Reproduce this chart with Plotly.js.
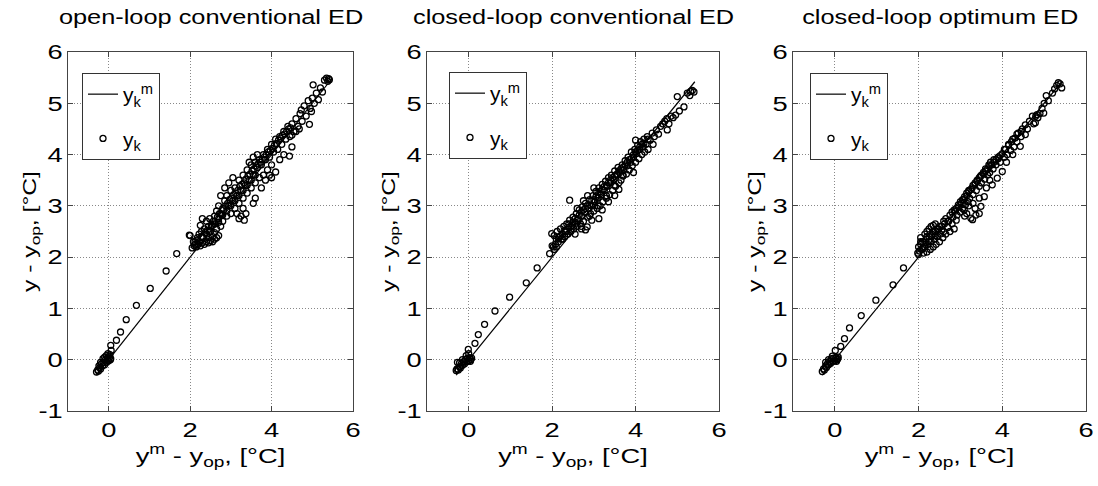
<!DOCTYPE html>
<html><head><meta charset="utf-8">
<script src="https://cdn.plot.ly/plotly-3.0.1.min.js"></script>
<style>html,body{margin:0;padding:0;background:#fff}#chart{width:1098px;height:486px}</style>
</head><body><div id="chart"></div>
<script>
const panelTitles = ['open-loop conventional ED', 'closed-loop conventional ED', 'closed-loop optimum ED'];
const xTickVals = [0, 2, 4, 6];
const xTickText = ['0', '2', '4', '6'];
const yTickVals = [-1, 0, 1, 2, 3, 4, 5, 6];
const yTickText = ['-1', '0', '1', '2', '3', '4', '5', '6'];
const xTitle = 'y<sup>m</sup> - y<sub>op</sub>, [°C]';
const yTitle = 'y - y<sub>op</sub>, [°C]';
const lineName = 'y<sub>k</sub><sup>m</sup>';
const pointName = 'y<sub>k</sub>';
const modelLine = [-0.3, 0, 1, 2, 3, 4, 5, 5.42];

// [y^m - y_op , y - y_op]
const openLoopConv = [
[-0.30,-0.24],[-0.27,-0.20],[-0.25,-0.22],[-0.22,-0.15],[-0.20,-0.18],[-0.18,-0.08],[-0.15,-0.12],[-0.12,-0.05],
[-0.10,-0.10],[-0.08,0.00],[-0.05,-0.05],[-0.03,0.02],[0.00,-0.02],[0.02,0.05],[0.04,0.00],[-0.02,0.12],
[0.05,0.28],[0.06,0.18],[-0.06,0.08],[-0.14,0.02],[0.05,0.02],[0.03,0.10],[-0.10,0.05],[-0.20,-0.05],[-0.24,-0.12],
[0.19,0.38],[0.29,0.54],[0.43,0.78],[0.68,1.06],[1.02,1.39],[1.41,1.73],[1.67,2.07],[1.98,2.43],
[2.05,2.18],[2.10,2.22],[2.15,2.20],[2.20,2.25],[2.25,2.22],[2.30,2.28],[2.35,2.25],[2.40,2.30],[2.45,2.28],
[2.50,2.32],[2.55,2.30],[2.60,2.35],[2.12,2.30],[2.18,2.38],[2.22,2.45],[2.28,2.50],[2.30,2.40],[2.35,2.55],
[2.40,2.45],[2.45,2.60],[2.50,2.50],[2.55,2.62],[2.60,2.48],[2.65,2.55],[2.00,2.42],[2.08,2.30],[2.25,2.62],
[2.30,2.75],[2.40,2.70],[2.48,2.75],[2.70,2.42],[2.75,2.60],
[2.60,2.80],[2.65,2.90],[2.70,2.75],[2.70,3.00],[2.75,2.85],[2.80,2.95],[2.80,2.70],[2.85,3.10],[2.90,2.90],
[2.90,3.20],[2.95,3.00],[3.00,3.30],[3.00,2.85],[3.05,3.10],[3.10,3.35],[3.10,2.95],[3.15,3.20],[3.20,3.50],
[3.20,3.05],[3.25,3.30],[3.30,3.60],[3.30,3.15],[3.35,3.40],[3.40,3.70],[3.40,3.25],[3.45,3.50],[3.50,3.80],
[3.50,3.35],[3.33,2.72],[3.37,2.85],[3.30,2.95],[3.25,2.80],[3.20,2.75],[3.15,2.85],[2.95,3.45],[3.05,3.55],
[2.85,3.35],[2.75,3.20],[3.60,3.15],[3.55,3.05],
[3.55,3.60],[3.60,3.85],[3.60,3.45],[3.65,3.75],[3.70,3.90],[3.70,3.55],[3.75,3.80],[3.80,4.00],[3.80,3.60],
[3.85,3.90],[3.90,4.10],[3.90,3.70],[3.95,3.95],[4.00,4.20],[4.00,3.80],[4.05,4.05],[4.10,4.30],[4.10,3.66],
[4.15,4.10],[4.20,4.35],[4.20,3.90],[4.25,4.20],[4.30,4.45],[4.30,4.00],[4.35,4.30],[4.40,4.55],[4.44,3.97],
[4.45,4.35],[4.50,4.15],[4.50,4.60],[3.85,3.50],[3.75,3.35],[3.95,3.60],[4.00,3.55],[3.45,3.85],[3.55,3.95],
[3.65,4.00],[4.50,4.38],
[4.55,4.45],[4.60,4.70],[4.65,4.55],[4.70,4.80],[4.73,4.87],[4.75,4.65],[4.80,4.95],[4.85,4.75],[4.90,5.05],
[4.93,4.59],[4.95,4.90],[4.98,4.84],[5.00,5.10],[5.05,5.00],[5.02,5.36],[5.15,5.07],[5.10,5.20],[5.20,5.30],
[5.25,5.22],[5.30,5.45],[5.35,5.49],[5.40,5.48],[5.38,5.43],[5.42,5.46],[4.60,4.45],[4.68,4.50],
[2.12,2.25],[2.17,2.33],[2.22,2.30],[2.27,2.40],[2.32,2.38],[2.37,2.48],[2.42,2.52],[2.47,2.50],[2.52,2.62],
[2.57,2.70],[2.62,2.65],[2.67,2.78],[2.72,2.85],[2.77,2.82],[2.82,2.92],[2.87,3.00],[2.92,3.05],[2.97,3.12],
[3.02,3.15],[3.07,3.22],[3.12,3.25],[3.17,3.30],[3.22,3.38],[3.27,3.42],[3.32,3.45],[3.37,3.52],[3.42,3.58],
[3.47,3.62],[3.52,3.68],[3.57,3.72],[3.62,3.78],[3.67,3.82],[3.72,3.85],[3.77,3.90],[3.82,3.95],[3.87,4.00],
[3.92,4.05],[3.97,4.08],[4.02,4.12],[4.07,4.18],[4.12,4.22],[4.17,4.28],[4.22,4.32],[4.27,4.38],[4.32,4.40],
[4.37,4.45],[4.42,4.50],[4.47,4.52],[2.90,2.80],[3.00,3.00],[3.10,3.10],[3.20,3.20],[3.30,3.30],[3.40,3.40],
[3.50,3.50],[3.60,3.60],[2.60,2.65],[2.70,2.68],[2.80,2.82],[2.55,2.40],[2.65,2.38],[2.45,2.38]
];

const closedLoopConv = [
[-0.30,-0.21],[-0.28,-0.18],[-0.25,-0.20],[-0.22,-0.14],[-0.20,-0.16],[-0.18,-0.08],[-0.15,-0.11],[-0.12,-0.04],
[-0.10,-0.08],[-0.08,0.00],[-0.05,-0.04],[-0.03,0.03],[0.00,-0.02],[0.02,0.04],[0.05,0.00],[0.07,0.03],
[-0.06,0.08],[-0.27,-0.05],[-0.15,0.00],[-0.22,-0.06],[0.04,-0.03],[-0.01,0.20],[0.00,0.12],
[0.15,0.32],[0.23,0.49],[0.38,0.69],[0.63,0.95],[0.98,1.22],[1.38,1.50],[1.64,1.79],[1.94,2.07],
[1.99,2.46],[2.03,2.20],[2.00,2.22],[2.05,2.42],[2.08,2.25],[2.10,2.35],[2.12,2.50],[2.15,2.30],[2.18,2.40],
[2.20,2.55],[2.22,2.35],[2.25,2.45],[2.28,2.60],[2.30,2.40],[2.32,2.50],[2.35,2.65],[2.38,2.45],[2.40,2.58],
[2.42,2.72],[2.45,2.50],[2.48,2.62],[2.50,2.78],[2.52,2.55],[2.55,2.68],[2.58,2.85],[2.60,2.60],[2.62,2.75],
[2.65,2.92],[2.68,2.65],[2.70,2.80],[2.72,2.98],[2.75,2.70],[2.78,2.88],[2.80,3.05],[2.80,2.53],[2.84,2.59],
[2.85,2.78],[2.88,2.95],[2.90,3.12],[2.92,2.85],[2.95,3.00],[2.98,3.20],[3.00,2.90],[3.02,3.08],[3.05,3.28],
[3.08,2.95],[3.10,3.15],[3.12,3.35],[3.15,3.00],[3.18,3.22],[3.20,3.42],[3.22,3.08],[3.25,3.30],[3.28,3.48],
[3.30,3.15],[3.32,3.38],[3.35,3.55],[3.38,3.22],[3.40,3.45],[3.42,3.60],[3.45,3.30],[3.48,3.52],[3.50,3.68],
[3.52,3.38],[3.55,3.60],[3.58,3.75],[3.60,3.45],[3.62,3.65],[3.65,3.50],[3.68,3.80],[3.70,3.58],[3.72,3.70],
[3.75,3.88],[3.78,3.62],[3.80,3.78],[3.82,3.95],[3.85,3.70],[3.88,3.85],[3.90,4.05],[3.92,3.78],[3.95,3.95],
[3.98,4.10],[4.00,3.85],[4.02,4.02],[4.05,4.18],[4.08,3.92],[4.10,4.10],[4.12,4.25],[4.15,4.00],[4.18,4.15],
[4.20,4.30],[4.22,4.05],[4.25,4.20],[4.28,4.35],[4.30,4.10],[4.35,4.28],[4.40,4.42],[4.42,4.20],[4.45,4.35],
[4.50,4.48],[4.55,4.40],[4.60,4.55],[4.65,4.60],[4.70,4.65],[4.75,4.70],[4.76,4.48],[4.80,4.60],[4.85,4.75],
[4.90,4.72],[4.96,4.77],[5.00,5.13],[5.05,4.85],[5.16,4.93],[5.24,5.20],[5.30,5.15],[5.32,5.23],[5.36,5.25],
[5.40,5.22],[3.12,2.75],[2.95,2.72],[3.50,3.20],[3.95,3.65],[4.30,4.30],[4.00,4.28],[2.42,3.11],[2.55,2.45],
[2.70,2.55],[3.20,2.92],[3.60,3.32],[3.35,3.08],
[2.05,2.15],[2.10,2.20],[2.15,2.38],[2.20,2.42],[2.25,2.35],[2.30,2.52],[2.35,2.50],[2.40,2.65],[2.45,2.60],
[2.50,2.68],[2.55,2.75],[2.60,2.72],[2.65,2.82],[2.70,2.88],[2.75,2.92],[2.80,2.95],[2.85,3.00],[2.90,3.02],
[2.95,3.10],[3.00,3.12],[3.05,3.18],[3.10,3.22],[3.15,3.28],[3.20,3.32],[3.25,3.38],[3.30,3.40],[3.35,3.45],
[3.40,3.50],[3.45,3.55],[3.50,3.58],[3.55,3.62],[3.60,3.68],[3.65,3.72],[3.70,3.75],[3.75,3.80],[3.80,3.85],
[3.85,3.90],[3.90,3.92],[3.95,4.00],[4.00,4.05],[4.05,4.08],[4.10,4.15],[4.15,4.20],[4.20,4.22],[2.70,2.60],
[2.90,2.80],[3.10,3.00],[3.30,3.20],[3.50,3.40],[3.70,3.60],[2.60,2.95],[2.75,3.10],[2.85,3.20],[3.00,3.35]
];

const closedLoopOpt = [
[-0.30,-0.23],[-0.27,-0.18],[-0.25,-0.20],[-0.22,-0.12],[-0.20,-0.15],[-0.18,-0.08],[-0.15,-0.10],[-0.12,-0.03],
[-0.10,-0.07],[-0.08,0.02],[-0.05,-0.03],[-0.03,0.03],[0.00,-0.02],[0.02,0.04],[0.05,0.00],[0.07,0.02],
[-0.06,0.07],[0.01,0.18],[-0.15,0.00],[-0.22,-0.05],[0.04,-0.03],[0.08,0.05],
[0.14,0.26],[0.23,0.41],[0.35,0.62],[0.63,0.86],[0.98,1.16],[1.39,1.46],[1.64,1.79],
[1.98,2.08],[2.00,2.20],[2.02,2.12],[2.05,2.25],[2.08,2.15],[2.10,2.30],[2.12,2.08],[2.15,2.20],[2.18,2.35],
[2.20,2.10],[2.22,2.25],[2.25,2.40],[2.28,2.15],[2.30,2.30],[2.32,2.45],[2.35,2.20],[2.38,2.35],[2.40,2.50],
[2.42,2.25],[2.45,2.40],[2.48,2.55],[2.50,2.30],[2.52,2.45],[2.55,2.60],[2.58,2.38],[2.60,2.50],[2.62,2.65],
[2.65,2.45],[2.70,2.58],[2.72,2.70],[2.75,2.50],[2.80,2.65],[2.82,2.78],[2.85,2.55],[2.05,2.38],[2.15,2.45],
[2.25,2.55],[2.35,2.62],[2.00,2.05],
[2.88,2.90],[2.90,2.72],[2.92,2.82],[2.95,2.98],[3.00,2.88],[3.02,3.05],[3.05,2.95],[3.08,3.12],[3.09,2.92],
[3.12,3.02],[3.15,3.20],[3.18,3.08],[3.20,3.28],[3.22,3.15],[3.25,2.76],[3.28,3.35],[3.29,2.73],[3.30,3.22],
[3.35,3.42],[3.37,2.82],[3.38,3.30],[3.40,3.50],[3.45,3.38],[3.48,3.58],[3.49,2.99],[3.50,3.45],[3.55,3.65],
[3.57,3.18],[3.58,3.52],[3.60,3.72],[3.65,3.60],[3.68,3.80],[3.70,3.65],[3.72,3.85],[3.76,3.41],[3.78,3.72],
[3.80,3.90],[3.85,3.80],[3.88,3.54],[3.90,3.95],[3.95,3.85],[4.00,3.67],[4.00,4.02],[3.15,2.85],[3.30,3.05],
[3.45,3.15],[3.62,3.35],[3.70,3.50],
[4.05,3.95],[4.08,4.10],[4.12,4.00],[4.15,4.18],[4.20,4.08],[4.22,4.25],[4.28,4.15],[4.30,4.32],[4.35,4.25],
[4.38,4.42],[4.43,4.16],[4.45,4.35],[4.48,4.50],[4.55,4.39],[4.55,4.58],[4.60,4.50],[4.65,4.65],[4.72,4.75],
[4.75,4.60],[4.79,4.62],[4.80,4.75],[4.83,4.78],[4.85,4.72],[4.90,4.80],[4.95,4.90],[4.99,4.81],[5.00,5.00],
[5.05,5.15],[5.10,5.05],[5.20,5.20],[5.25,5.28],[5.30,5.35],[5.34,5.40],[5.38,5.38],[5.42,5.30],[4.10,3.85],
[4.25,4.00],[3.20,3.00],
[2.05,2.30],[2.10,2.18],[2.15,2.28],[2.20,2.40],[2.25,2.30],[2.30,2.42],[2.35,2.50],[2.40,2.42],[2.45,2.55],
[2.50,2.60],[2.55,2.52],[2.60,2.70],[2.65,2.75],[2.70,2.70],[2.75,2.82],[2.80,2.88],[2.85,2.92],[2.90,2.95],
[2.95,3.02],[3.00,3.08],[3.05,3.12],[3.10,3.18],[3.15,3.25],[3.20,3.30],[3.25,3.32],[3.30,3.40],[3.35,3.45],
[3.40,3.48],[3.45,3.55],[3.50,3.60],[3.55,3.62],[3.60,3.68],[3.65,3.72],[3.70,3.78],[3.75,3.80],[3.80,3.85],
[3.85,3.90],[3.90,3.92],[3.95,3.98],[4.05,4.10],[4.15,4.20],[4.25,4.30],[4.35,4.40],[4.45,4.45],[2.30,2.60],
[2.40,2.65],[2.20,2.50],[3.10,2.80],[3.35,2.95],[3.45,2.85]
];

const panels = [openLoopConv, closedLoopConv, closedLoopOpt];
const font = 'Liberation Sans, Arial, Helvetica, sans-serif';
const xDomains = [[68/1098, 353/1098], [427/1098, 719/1098], [793/1098, 1086/1098]];
const yDomain = [1 - 411/486, 1 - 52/486];
const legendPos = [[82/1098, 1 - 73/486], [449/1098, 1 - 72/486], [810/1098, 1 - 73/486]];
const STRETCH = 1.3;

const traces = [];
const layout = {
  width: 1098, height: 486,
  margin: {l: 0, r: 0, t: 0, b: 0},
  paper_bgcolor: '#fff', plot_bgcolor: '#fff',
  font: {family: font, color: '#000', size: 20},
  annotations: [],
  showlegend: true
};

panels.forEach((pts, i) => {
  const n = i === 0 ? '' : String(i + 1);
  const leg = 'legend' + n;
  traces.push({
    x: modelLine, y: modelLine, mode: 'lines', name: lineName, legendgroup: 'm' + i,
    line: {color: '#000', width: 1.2},
    xaxis: 'x' + n, yaxis: 'y' + n, legend: leg
  });
  traces.push({
    x: pts.map(p => p[0]), y: pts.map(p => p[1]), mode: 'markers', name: pointName, legendgroup: 'k' + i,
    marker: {symbol: 'circle-open', size: 6, color: '#000', line: {width: 1.3, color: '#000'}},
    xaxis: 'x' + n, yaxis: 'y' + n, legend: leg
  });
  const common = {
    range: [-1, 6], showgrid: true, gridcolor: '#888', griddash: '1px,2px', gridwidth: 1,
    zeroline: false, showline: true, mirror: 'ticks', linecolor: '#444', linewidth: 1,
    ticks: 'inside', ticklen: 5, tickcolor: '#444', tickfont: {size: 21, color: '#000'},
    fixedrange: true
  };
  layout['xaxis' + n] = Object.assign({}, common, {
    domain: xDomains[i], anchor: 'y' + n, tickvals: xTickVals, ticktext: xTickText,
    title: {text: xTitle, font: {size: 21}, standoff: 4}
  });
  layout['yaxis' + n] = Object.assign({}, common, {
    domain: yDomain, anchor: 'x' + n, tickvals: yTickVals, ticktext: yTickText,
    title: {text: yTitle, font: {size: 19}, standoff: 2}
  });
  layout[leg] = {
    x: legendPos[i][0], y: legendPos[i][1], xanchor: 'left', yanchor: 'top',
    bgcolor: '#fff', bordercolor: '#333', borderwidth: 1,
    font: {size: 21}, itemwidth: 30, tracegroupgap: 14
  };
  layout.annotations.push({
    text: panelTitles[i], xref: 'paper', yref: 'paper',
    x: (xDomains[i][0] + xDomains[i][1]) / 2, y: 1 - 17/486,
    xanchor: 'center', yanchor: 'middle', showarrow: false,
    font: {size: 19.5, color: '#000'}
  });
});

function inLegend(el) {
  for (let p = el.parentNode; p && p.getAttribute; p = p.parentNode) {
    if (/legend/.test(p.getAttribute('class') || '')) return true;
  }
  return false;
}

function widenText(gd) {
  // the reference draws its text with wide glyphs: stretch each text along its own direction
  gd.querySelectorAll('text').forEach(t => {
    if (!t.textContent.trim() || t.classList.contains('legendtext') || inLegend(t)) return;
    const bb = t.getBBox();
    const a = t.getAttribute('text-anchor') || 'start';
    const ax = a === 'middle' ? bb.x + bb.width / 2 : (a === 'end' ? bb.x + bb.width : bb.x);
    const tr = t.getAttribute('transform') || '';
    t.setAttribute('transform', (tr + ' translate(' + ax + ',0) scale(' + STRETCH + ',1) translate(' + (-ax) + ',0)').trim());
  });
}

Plotly.newPlot('chart', traces, layout, {displayModeBar: false, staticPlot: true}).then(widenText);
</script>
</body></html>
